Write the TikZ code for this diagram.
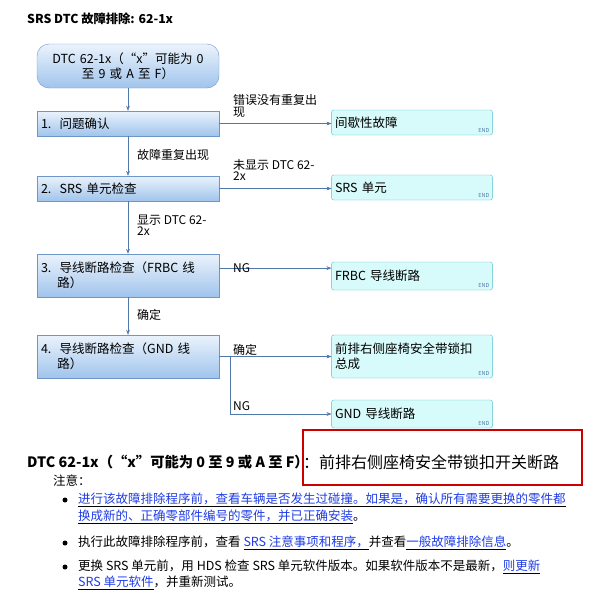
\documentclass[tikz,border=0pt]{standalone}
\usepackage{fontspec}
\setmainfont{Noto Sans CJK SC}
\usetikzlibrary{calc,arrows.meta}
\definecolor{stepedge}{RGB}{110,150,200}
\definecolor{steptop}{RGB}{235,243,252}
\definecolor{stepbot}{RGB}{160,196,236}
\definecolor{endedge}{RGB}{80,190,205}
\definecolor{endfill}{RGB}{215,250,250}
\definecolor{flow}{RGB}{80,120,170}
\definecolor{linkblue}{RGB}{30,60,230}
\begin{document}
\begin{tikzpicture}[x=1pt,y=-1pt,
  check/.style={rectangle,draw=stepedge,top color=steptop,bottom color=stepbot,
    minimum width=182pt,text width=174pt,align=left,font=\fontsize{12.5}{15}\selectfont},
  start/.style={check,rounded corners=12pt,align=center},
  result/.style={rectangle,draw=endedge,fill=endfill,rounded corners=2pt,
    minimum width=160pt,text width=154pt,align=left,font=\fontsize{12.5}{15}\selectfont},
  lbl/.style={anchor=west,align=left,font=\fontsize{12}{11.5}\selectfont,inner sep=0pt},
  arr/.style={draw=flow,-{Stealth[length=5pt]}},
  endmark/.style={anchor=south east,font=\fontsize{5.5}{5}\selectfont,text=flow,inner sep=3pt}
]
\useasboundingbox (0,0) rectangle (604,597);

\node[anchor=west,inner sep=0pt,font=\bfseries\fontsize{12.3}{14}\selectfont] (title) at (27,19) {SRS DTC 故障排除: 62-1x};

% left column
\node[start,minimum height=44pt] (s0) at (128,66) {DTC 62-1x（“x”可能为 0\\至 9 或 A 至 F）};
\node[check,minimum height=25pt] (b1) at (128,123.5) {1.\ \ 问题确认};
\node[check,minimum height=25pt] (b2) at (128,188.5) {2.\ \ SRS 单元检查};
\node[check,minimum height=43pt] (b3) at (128,275.5) {3.\ \ 导线断路检查（FRBC 线\\\hspace*{1.3em}路）};
\node[check,minimum height=43pt] (b4) at (128,356.5) {4.\ \ 导线断路检查（GND 线\\\hspace*{1.3em}路）};

% right column
\node[result,minimum height=25pt] (r1) at (412,122.5) {间歇性故障};
\node[result,minimum height=25pt] (r2) at (412,187.5) {SRS 单元};
\node[result,minimum height=28pt] (r3) at (412,276) {FRBC 导线断路};
\node[result,minimum height=43pt] (r4) at (412,356.5) {前排右侧座椅安全带锁扣\\总成};
\node[result,minimum height=28pt] (r5) at (412,414) {GND 导线断路};
\foreach \r in {r1,r2,r3,r4,r5}
  \node[endmark] at (\r.south east) {END};

% connectors
\draw[arr] (s0) -- (b1);
\draw[arr] (b1) -- (b2);
\draw[arr] (b2) -- (b3);
\draw[arr] (b3) -- (b4);
\draw[arr] (b1.east) -- (b1.east -| r1.west);
\draw[arr] (b2.east) -- (b2.east -| r2.west);
\coordinate (c3) at ($(b3.north east)!0.33!(b3.south east)$);
\draw[arr] (c3) -- (c3 -| r3.west);
\draw[arr] (b4.east) -- (b4.east -| r4.west);
\coordinate (split) at ($(b4.east)+(11,0)$);
\draw[arr] (split) |- (r5.west);

% labels
\node[lbl] at (233,106) {错误没有重复出\\现};
\node[lbl] at (233,170) {未显示 DTC 62-\\2x};
\node[lbl] at (233,268) {NG};
\node[lbl] at (233,350) {确定};
\node[lbl] at (233,406) {NG};
\node[lbl] at (137,155) {故障重复出现};
\node[lbl] at (137,225) {显示 DTC 62-\\2x};
\node[lbl] at (137,315) {确定};

% text below
\node[anchor=west,inner sep=0pt,font=\bfseries\fontsize{14.3}{16}\selectfont] (head) at (27,462) {DTC 62-1x（“x”可能为 0 至 9 或 A 至 F）};
\node[draw=red!80!black,line width=1.2pt,fill=white,minimum width=279pt,minimum height=55pt] (redbox) at (442.5,457.5) {};
\node[anchor=west,inner sep=0pt,font=\fontsize{16}{18}\selectfont] at (303,462) {：前排右侧座椅安全带锁扣开关断路};
\node[anchor=west,inner sep=0pt,font=\fontsize{12.5}{14}\selectfont] (note) at (53,481) {注意：};
\begin{scope}[every node/.style={anchor=west,inner sep=0pt,font=\fontsize{12.5}{14}\selectfont}]
\foreach \y in {500,543,567}
  \fill (65,\y) circle (2.5pt);
\node at (78,500) {\underline{\color{linkblue}进行该故障排除程序前，查看车辆是否发生过碰撞。如果是，确认所有需要更换的零件都}};
\node at (78,517) {\underline{\color{linkblue}换成新的、正确零部件编号的零件，并已正确安装}。};
\node at (78,543) {执行此故障排除程序前，查看 \underline{\color{linkblue}SRS 注意事项和程序，}并查看\underline{\color{linkblue}一般故障排除信息}。};
\node at (78,567) {更换 SRS 单元前，用 HDS 检查 SRS 单元软件版本。如果软件版本不是最新，\underline{\color{linkblue}则更新}};
\node at (78,583) {\underline{\color{linkblue}SRS 单元软件}，并重新测试。};
\end{scope}
\end{tikzpicture}
\end{document}
